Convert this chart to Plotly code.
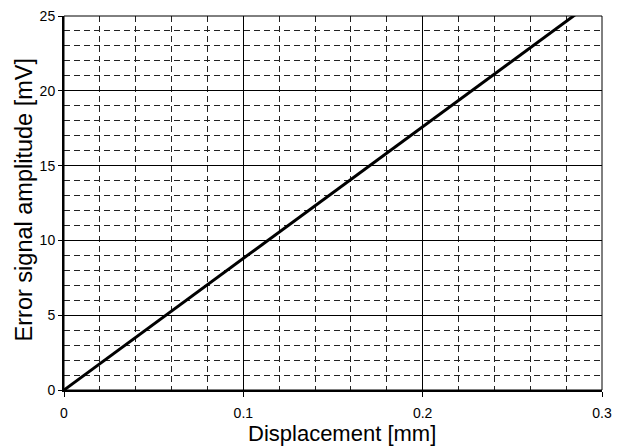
import plotly.graph_objects as go

# Data
displacement_mm = [0.0, 0.1, 0.2, 0.3]
amplitude_mV = [0.0, 8.8, 17.6, 26.4]

x_ticks = [0, 0.1, 0.2, 0.3]
x_ticktext = ["0", "0.1", "0.2", "0.3"]
y_ticks = [0, 5, 10, 15, 20, 25]
y_ticktext = ["0", "5", "10", "15", "20", "25"]
x_title = "Displacement [mm]"
y_title = "Error signal amplitude [mV]"

fig = go.Figure()
fig.add_trace(go.Scatter(
    x=displacement_mm, y=amplitude_mV, mode="lines",
    line=dict(color="black", width=3), showlegend=False, cliponaxis=True,
))

font_family = "Liberation Sans, Arial, sans-serif"

fig.update_xaxes(
    range=[0, 0.3], tickvals=x_ticks, ticktext=x_ticktext, automargin=False,
    showline=True, linecolor="black", linewidth=2,
    ticks="outside", ticklen=5, tickcolor="black", tickwidth=1,
    showgrid=True, gridcolor="black", gridwidth=1,
    minor=dict(dtick=0.02, showgrid=True, gridcolor="#222", gridwidth=1, griddash="6px,4px"),
    zeroline=False, tickfont=dict(size=14, color="black", family=font_family),
    ticklabelstandoff=4, ticklabeloverflow="allow",
)
fig.update_yaxes(
    range=[0, 25], tickvals=y_ticks, ticktext=y_ticktext, automargin=False,
    showline=True, linecolor="black", linewidth=2,
    ticks="outside", ticklen=4, tickcolor="black", tickwidth=1,
    showgrid=True, gridcolor="black", gridwidth=1,
    minor=dict(dtick=1, showgrid=True, gridcolor="#222", gridwidth=1, griddash="6px,4px"),
    zeroline=False, tickfont=dict(size=14, color="black", family=font_family),
    ticklabeloverflow="allow",
)

fig.add_shape(type="rect", xref="paper", yref="paper", x0=0, y0=0, x1=1, y1=1,
              line=dict(color="black", width=1), layer="above")

fig.add_annotation(text=x_title, xref="paper", yref="paper", x=0.516, y=-0.117,
                   xanchor="center", yanchor="middle", showarrow=False,
                   font=dict(size=22, color="black", family=font_family))
fig.add_annotation(text=y_title, xref="paper", yref="paper", x=-0.0743, y=0.507,
                   xanchor="center", yanchor="middle", showarrow=False, textangle=-90,
                   font=dict(size=23.5, color="black", family=font_family))

# The page body adds an 8px offset, so the figure is sized to fit the window
fig.update_layout(
    width=612, height=438,
    margin=dict(l=56, r=18, t=8, b=56),
    paper_bgcolor="white", plot_bgcolor="white",
    font=dict(family=font_family, color="black"),
)

fig.write_html("out.html")
